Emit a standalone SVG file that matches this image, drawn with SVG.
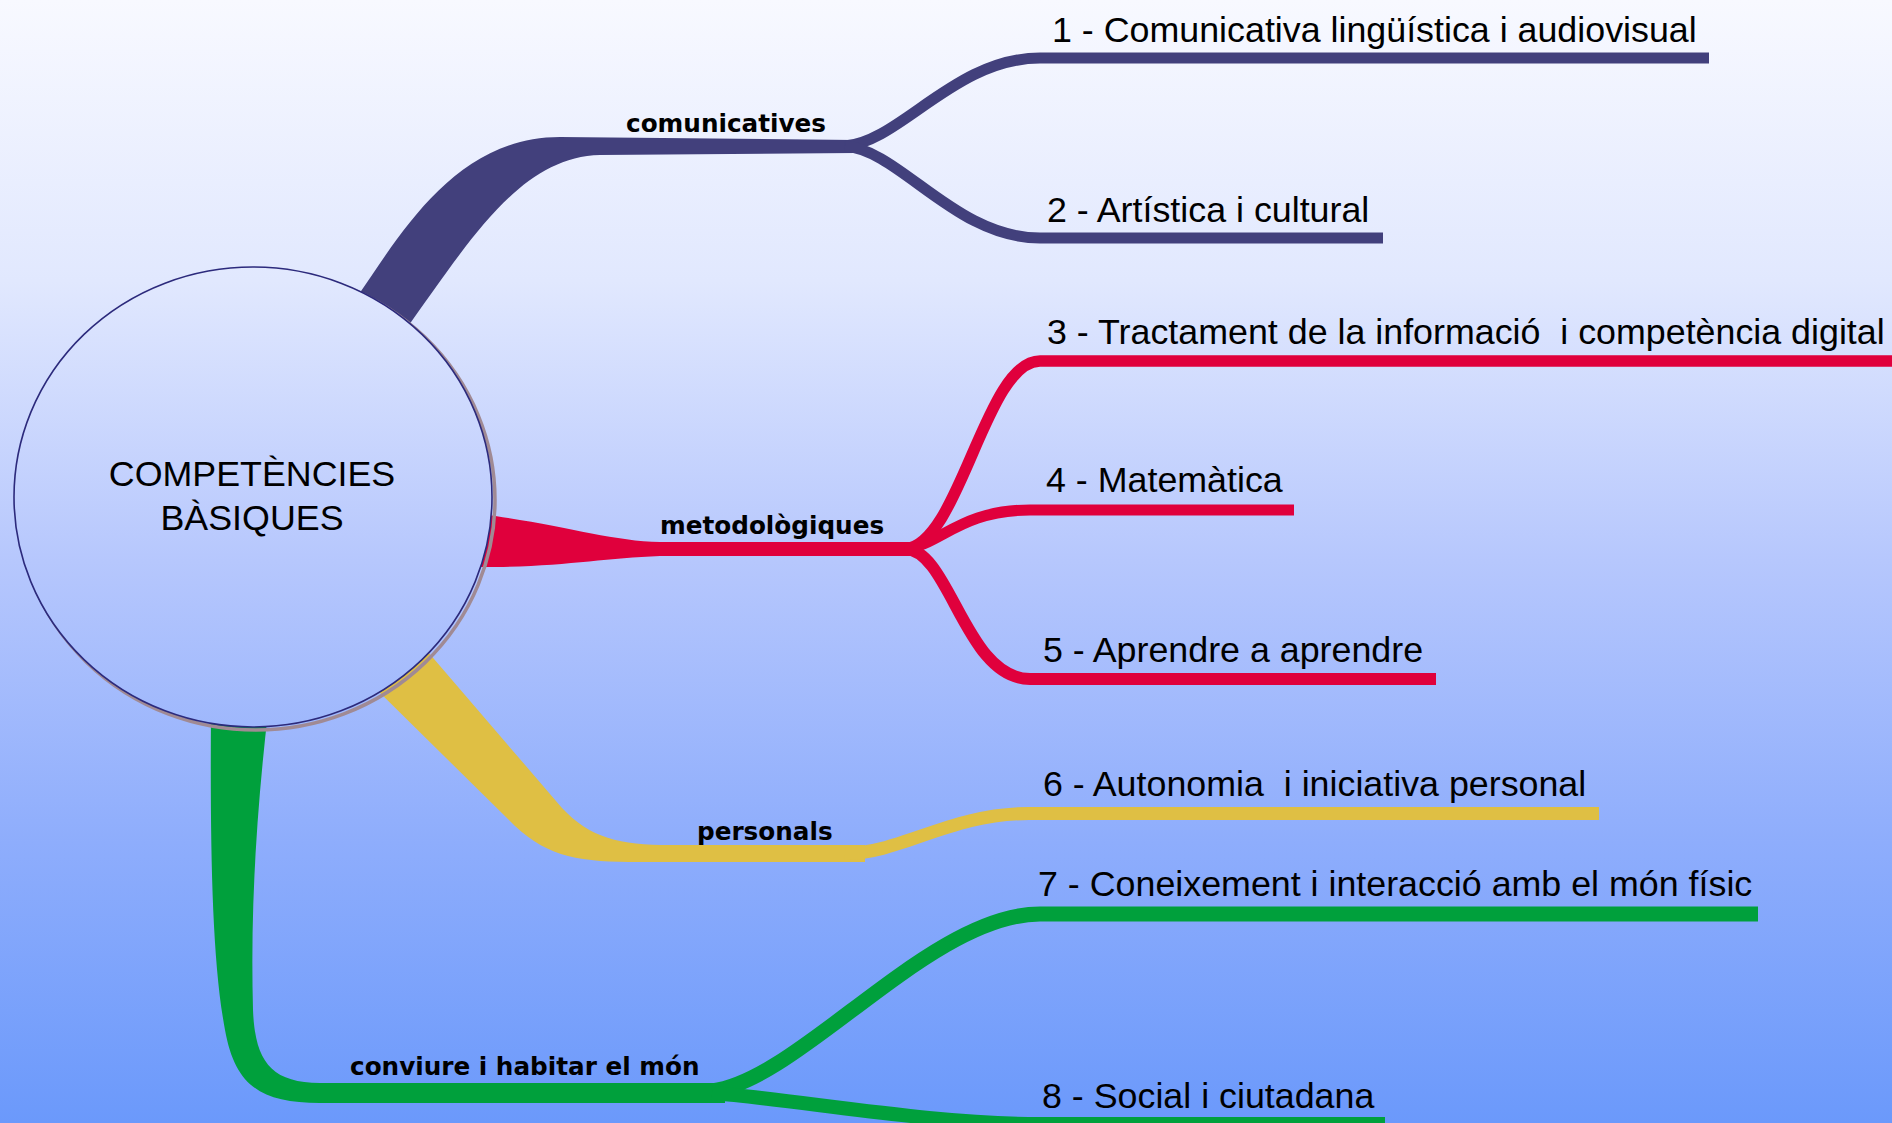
<svg xmlns="http://www.w3.org/2000/svg" width="1892" height="1123" viewBox="0 0 1892 1123">
  <defs>
    <linearGradient id="bg" gradientUnits="userSpaceOnUse" x1="0" y1="0" x2="0" y2="1123">
      <stop offset="0" stop-color="#f8f9ff"/>
      <stop offset="0.25" stop-color="#e1e8fe"/>
      <stop offset="0.5" stop-color="#b6c7fd"/>
      <stop offset="0.75" stop-color="#8eadfc"/>
      <stop offset="1" stop-color="#6b99fb"/>
    </linearGradient>
    <style>
      .node { font-family: "Liberation Sans", Arial, sans-serif; font-size: 35.8px; fill: #000; }
      .lbl { font-family: "DejaVu Sans", Verdana, sans-serif; font-weight: bold; font-size: 24.7px; fill: #000; }
      .br { fill: none; stroke-linecap: butt; stroke-linejoin: round; }
      .navy { fill: #42407c; }
      .red { fill: #e0003c; }
      .yel { fill: #dfbf44; }
      .grn { fill: #00a03c; }
      .snavy { stroke: #42407c; }
      .sred { stroke: #e0003c; }
      .syel { stroke: #dfbf44; }
      .sgrn { stroke: #00a03c; }
    </style>
  </defs>
  <rect x="0" y="0" width="1892" height="1123" fill="url(#bg)"/>

  <g id="connectors">
    <!-- comunicatives -->
    <path class="navy" d="M355,300 C 400,235 455,137 560,137 L 855,140 L 855,153 L 600,155 C 520,157 470,240 404,332 Z"/>
    <path class="br snavy" stroke-width="11" d="M845,146 C 900,142 955,58 1040,58 L 1709,58"/>
    <path class="br snavy" stroke-width="11" d="M845,146 C 900,150 955,238 1040,238 L 1383,238"/>
    <!-- metodologiques -->
    <path class="red" d="M480,514 C 560,524 610,541 660,542 L 915,542 L 915,556 L 660,556 C 600,558 560,568 470,567 Z"/>
    <path class="br sred" stroke-width="11.5" d="M905,549 C 960,545 985,361 1040,361 L 1892,361"/>
    <path class="br sred" stroke-width="11" d="M905,549 C 940,545 960,510 1030,510 L 1294,510"/>
    <path class="br sred" stroke-width="12" d="M905,549 C 950,549 965,679 1030,679 L 1436,679"/>
    <!-- personals -->
    <path class="yel" d="M370,683 L 515,826 C 550,858 580,862 640,862 L 865,862 L 865,845 L 670,845 C 620,845 590,838 562,808 L 422,645 Z"/>
    <path class="br syel" stroke-width="13" d="M845,853.5 C 900,854 950,813.5 1029,813.5 L 1599,813.5"/>
    <!-- conviure -->
    <path class="grn" d="M211,712 C 210,850 212,960 225,1030 C 235,1085 260,1103 320,1103 L 725,1103 L 725,1083 L 320,1083 C 270,1083 255,1060 253,1010 C 250,900 258,800 268,712 Z"/>
    <path class="br sgrn" stroke-width="15" d="M712,1091 C 800,1080 930,914 1040,914 L 1758,914"/>
    <path class="br sgrn" stroke-width="14" d="M712,1093 C 800,1100 930,1124 1040,1124 L 1385,1124"/>
  </g>

  <g id="labels">
    <text class="lbl" x="626" y="132">comunicatives</text>
    <text class="lbl" x="660" y="534">metodològiques</text>
    <text class="lbl" x="697" y="840">personals</text>
    <text class="lbl" x="350" y="1075">conviure i habitar el món</text>
  </g>

  <g id="center">
    <ellipse cx="256" cy="500" rx="239" ry="230" fill="none" stroke="#a08a94" stroke-width="3.5"/>
    <ellipse cx="253" cy="497" rx="239" ry="230" fill="url(#bg)" stroke="#2c2a7c" stroke-width="1.6"/>
    <text class="node" x="252" y="486" text-anchor="middle">COMPETÈNCIES</text>
    <text class="node" x="252" y="530" text-anchor="middle">BÀSIQUES</text>
  </g>

  <g id="n1"><text class="node" x="1052" y="42">1 - Comunicativa lingüística i audiovisual</text></g>
  <g id="n2"><text class="node" x="1047" y="222">2 - Artística i cultural</text></g>
  <g id="n3"><text class="node" x="1047" y="344" xml:space="preserve">3 - Tractament de la informació  i competència digital</text></g>
  <g id="n4"><text class="node" x="1046" y="492">4 - Matemàtica</text></g>
  <g id="n5"><text class="node" x="1043" y="662">5 - Aprendre a aprendre</text></g>
  <g id="n6"><text class="node" x="1043" y="796" xml:space="preserve">6 - Autonomia  i iniciativa personal</text></g>
  <g id="n7"><text class="node" x="1038" y="896">7 - Coneixement i interacció amb el món físic</text></g>
  <g id="n8"><text class="node" x="1042" y="1108">8 - Social i ciutadana</text></g>
</svg>
